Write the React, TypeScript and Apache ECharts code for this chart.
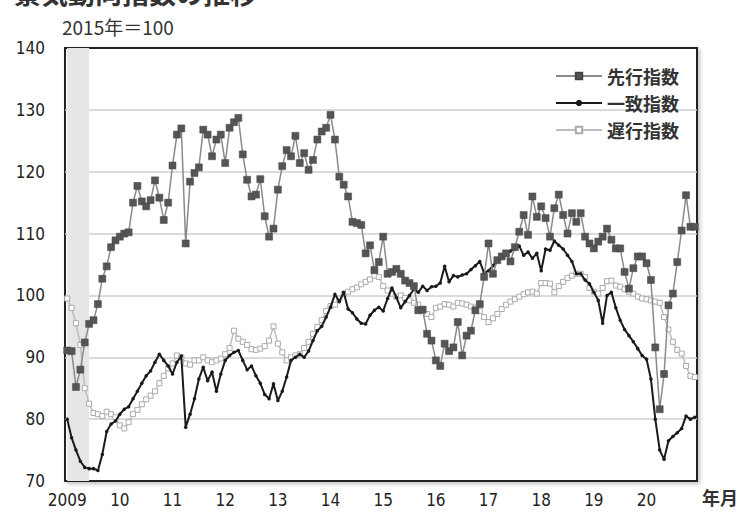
import React, { useEffect, useRef } from "react";
import * as echarts from "echarts";

const years = [2009, 2010, 2011, 2012, 2013, 2014, 2015, 2016, 2017, 2018, 2019, 2020];
const monthCodes = ["01", "02", "03", "04", "05", "06", "07", "08", "09", "10", "11", "12"];
const categories: string[] = years.flatMap((y) => monthCodes.map((m) => `${y}-${m}`));
const xTickLabels = ["2009", "10", "11", "12", "13", "14", "15", "16", "17", "18", "19", "20"];
const yTicks = [70, 80, 90, 100, 110, 120, 130, 140];

const seriesNames = ["先行指数", "一致指数", "遅行指数"];

// 先行指数 (monthly, 2009-01 .. 2020-12)
const leadingIndex = [
  91.1, 91.0, 85.2, 88.0, 92.4, 95.4, 96.0, 98.6, 102.7, 104.7, 107.8, 108.9,
  109.5, 110.0, 110.2, 115.0, 117.7, 115.2, 114.4, 115.4, 118.6, 115.8, 112.2, 115.0,
  121.0, 126.0, 127.0, 108.4, 118.4, 119.8, 120.7, 126.8, 126.0, 122.5, 125.2, 126.0,
  121.4, 127.1, 128.0, 128.7, 122.8, 118.7, 116.0, 116.3, 118.8, 112.8, 109.5, 110.8,
  117.1, 120.9, 123.5, 122.5, 125.8, 121.4, 123.0, 120.3, 121.9, 125.2, 126.5, 127.1,
  129.2, 125.2, 119.2, 117.9, 116.0, 111.9, 111.7, 111.4, 106.8, 108.1, 104.1, 105.4,
  109.5, 103.5, 103.8, 104.3, 103.5, 102.4, 102.0, 101.5, 97.6, 97.7, 93.8, 92.7,
  89.5, 88.6, 92.2, 91.0, 91.6, 95.7, 90.3, 93.5, 94.3, 97.6, 98.6, 103.0,
  108.4, 103.5, 105.7, 106.3, 106.8, 105.5, 107.8, 110.3, 113.0, 109.8, 116.0, 112.7,
  114.4, 112.5, 109.5, 114.1, 116.3, 113.0, 110.0, 113.3, 111.9, 113.3, 109.5, 108.4,
  107.6, 108.7, 109.5, 110.8, 109.0, 107.6, 107.6, 103.8, 101.1, 104.4, 106.3, 106.3,
  105.2, 102.5, 91.6, 81.6, 87.3, 98.4, 100.3, 105.4, 110.5, 116.2, 111.1, 111.1,
];

// 一致指数
const coincidentIndex = [
  80.0, 77.0, 75.0, 73.2, 72.2, 72.0, 72.0, 71.7, 74.3, 78.0, 79.2, 79.7,
  80.8, 81.6, 82.0, 83.3, 84.5, 85.8, 87.0, 87.8, 89.2, 90.5, 89.5, 88.6,
  87.3, 89.2, 90.2, 78.7, 80.8, 83.3, 86.5, 88.4, 86.2, 87.6, 84.5, 87.3,
  89.5, 90.3, 90.8, 91.1, 89.5, 88.0, 88.6, 87.0, 85.8, 84.0, 83.3, 85.7,
  83.0, 84.5, 86.8, 89.5, 90.0, 90.5, 90.0, 91.0, 92.7, 94.3, 95.0, 96.5,
  98.1, 100.2, 99.0, 100.5, 97.8, 97.2, 96.2, 95.5, 95.4, 96.8, 97.6, 98.1,
  97.5, 99.5, 101.2, 99.7, 98.0, 99.0, 100.0, 101.0, 100.5, 101.5, 100.8, 101.4,
  101.5, 102.0, 104.7, 102.2, 103.2, 103.0, 103.3, 103.5, 104.2, 104.8, 105.5, 103.6,
  104.0, 104.8, 105.7, 106.3, 106.6, 107.2, 107.5, 108.0, 106.5, 107.0, 106.0, 106.8,
  104.0, 107.5, 107.3, 108.8, 108.1, 107.5, 106.5, 105.5, 103.5, 103.5, 102.5, 101.9,
  100.5, 99.2, 95.5, 100.0, 100.5, 98.0, 96.0, 94.5, 93.5, 92.5, 91.4, 90.3,
  89.7, 86.5, 80.0, 75.0, 73.5, 76.5, 77.2, 77.8, 78.5, 80.5, 80.0, 80.3,
];

// 遅行指数
const laggingIndex = [
  99.5, 98.0, 95.5, 92.0, 85.0, 82.5, 81.0, 80.8, 80.5, 81.2, 80.8, 80.3,
  79.0, 78.5, 79.5, 80.8, 81.5, 82.4, 83.2, 83.8, 84.5, 85.8, 87.0, 88.2,
  89.0, 90.3, 90.0, 89.0, 88.8, 89.5, 89.5, 90.0, 89.5, 89.2, 89.5, 89.8,
  90.5, 91.5, 94.3, 93.0, 92.5, 92.0, 91.3, 91.2, 91.4, 91.8, 92.7, 95.0,
  92.2, 90.8, 89.5, 90.0, 90.3, 90.5, 91.5, 92.5, 93.8, 94.9, 96.0, 97.5,
  98.3, 98.5, 99.5, 100.2, 100.6, 101.0, 101.3, 101.8, 102.2, 102.6, 103.2, 103.0,
  101.5, 100.8, 100.3, 99.8, 100.0, 99.6, 99.2, 98.8, 98.5, 97.8, 97.0, 96.5,
  98.0, 98.2, 98.6, 98.5, 98.2, 98.8, 98.7, 98.5, 98.2, 98.0, 97.5, 96.5,
  95.7, 96.3, 97.0, 97.8, 98.5, 99.0, 99.4, 99.8, 100.2, 100.5, 100.6, 100.3,
  102.0, 102.0, 101.9, 100.5, 101.5, 102.2, 102.8, 103.2, 103.5, 103.5, 103.0, 101.2,
  100.6, 100.3, 101.2, 102.3, 102.4, 101.6, 101.4, 101.0, 100.6, 100.3, 99.8, 99.5,
  99.4, 99.2, 99.0, 98.8, 96.5, 94.5, 92.5, 91.2, 90.6, 88.6, 87.0, 86.8,
];

// shaded period (景気後退期)
const shadedStart = "2009-01";
const shadedEnd = "2009-06";

const labelFont = "'Liberation Sans Narrow', 'DejaVu Sans Condensed', 'Noto Sans', sans-serif";
const cjkFont = "'Noto Sans CJK JP', 'Noto Sans', sans-serif";

export default function App() {
  const ref = useRef<HTMLDivElement>(null);

  useEffect(() => {
    if (!ref.current) return;
    const chart = echarts.init(ref.current, undefined, { renderer: "svg" });
    chart.setOption({
      animation: false,
      backgroundColor: "#ffffff",
      grid: {
        left: 65,
        right: 49,
        top: 48,
        bottom: 40,
        show: true,
        borderColor: "#222",
        borderWidth: 2,
        backgroundColor: "#fff",
        shadowColor: "rgba(0,0,0,0.25)",
        shadowBlur: 4,
        shadowOffsetX: 2,
        shadowOffsetY: 2,
      },
      legend: {
        orient: "vertical",
        right: 62,
        top: 62,
        align: "left",
        itemWidth: 46,
        itemHeight: 8,
        itemGap: 9,
        selectedMode: false,
        textStyle: { fontSize: 18, lineHeight: 18, fontWeight: "bold", color: "#333", fontFamily: cjkFont },
        data: seriesNames,
      },
      xAxis: {
        type: "category",
        data: categories,
        boundaryGap: true,
        axisLine: { show: false },
        axisTick: { show: false },
        splitLine: { show: false },
        axisLabel: {
          interval: (index: number) => index % 12 === 0,
          formatter: (value: string) => xTickLabels[years.indexOf(Number(value.slice(0, 4)))],
          margin: 10,
          fontSize: 17,
          color: "#222",
          fontFamily: labelFont,
        },
      },
      yAxis: {
        type: "value",
        min: yTicks[0],
        max: yTicks[yTicks.length - 1],
        interval: 10,
        axisLine: { show: false },
        axisTick: { show: false },
        splitLine: { show: true, showMinLine: false, showMaxLine: false, lineStyle: { color: "#cfcfcf", width: 1.5 } },
        axisLabel: { margin: 20, fontSize: 17, color: "#222", fontFamily: labelFont },
      },
      graphic: [
        {
          type: "text",
          left: 14,
          top: -21,
          style: { text: "景気動向指数の推移", fontSize: 27, fontWeight: "bold", fill: "#333", fontFamily: cjkFont },
        },
        {
          type: "text",
          left: 62,
          top: 17,
          style: { text: "2015年＝100", fontSize: 19, fill: "#333", fontFamily: cjkFont },
        },
        {
          type: "text",
          right: 8,
          top: 488,
          style: { text: "年月", fontSize: 18, fontWeight: "bold", fill: "#333", fontFamily: cjkFont },
        },
      ],
      series: [
        {
          name: seriesNames[2],
          type: "line",
          data: laggingIndex,
          symbol: "rect",
          symbolSize: 5,
          showAllSymbol: true,
          z: 2,
          lineStyle: { color: "#bdbdbd", width: 1.5 },
          itemStyle: { color: "#ffffff", borderColor: "#aaaaaa", borderWidth: 1 },
          markArea: {
            silent: true,
            itemStyle: { color: "#e6e6e6" },
            data: [[{ xAxis: shadedStart }, { xAxis: shadedEnd }]],
          },
        },
        {
          name: seriesNames[1],
          type: "line",
          data: coincidentIndex,
          symbol: "circle",
          symbolSize: 3.5,
          showAllSymbol: true,
          z: 3,
          lineStyle: { color: "#1a1a1a", width: 2 },
          itemStyle: { color: "#1a1a1a" },
        },
        {
          name: seriesNames[0],
          type: "line",
          data: leadingIndex,
          symbol: "rect",
          symbolSize: 7,
          showAllSymbol: true,
          z: 4,
          lineStyle: { color: "#8a8a8a", width: 1.5 },
          itemStyle: { color: "#555555", borderColor: "#444", borderWidth: 0.5 },
        },
      ],
    });
    return () => chart.dispose();
  }, []);

  return (
    <div
      ref={ref}
      style={{ position: "fixed", left: 0, top: 0, width: 746, height: 521, background: "#fff" }}
    />
  );
}
